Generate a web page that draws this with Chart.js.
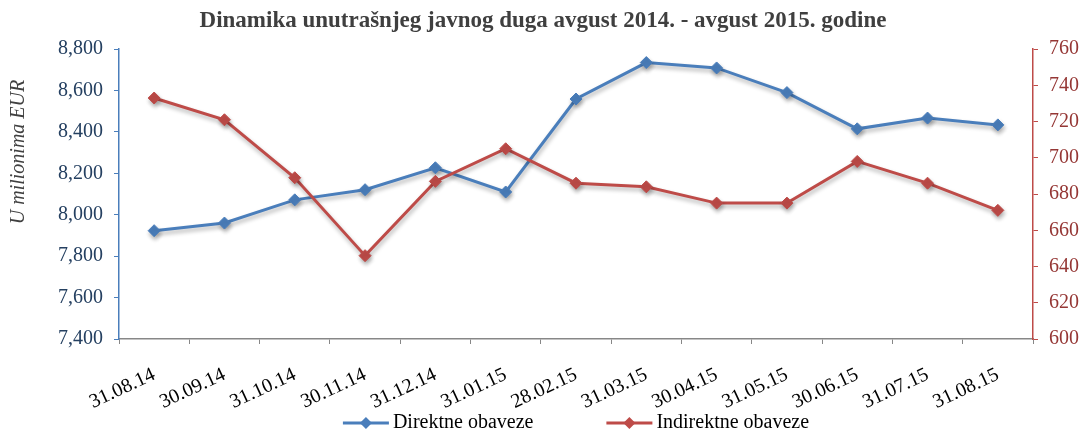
<!DOCTYPE html>
<html lang="sr">
<head>
<meta charset="utf-8">
<title>Dinamika unutrašnjeg javnog duga</title>
<script src="https://cdn.jsdelivr.net/npm/chart.js@4.4.1/dist/chart.umd.min.js"></script>
<style>
    html, body { margin: 0; padding: 0; background: #fff; }
    #wrap { width: 1086px; height: 432px; }
</style>
</head>
<body>
<div id="wrap"><canvas id="debtChart" width="1086" height="432"></canvas></div>
<script>
const labels = ['31.08.14', '30.09.14', '31.10.14', '30.11.14', '31.12.14', '31.01.15', '28.02.15',
    '31.03.15', '30.04.15', '31.05.15', '30.06.15', '31.07.15', '31.08.15'];
const direktne = [7923, 7960, 8072, 8121, 8227, 8110, 8559, 8735, 8709, 8590, 8415, 8467, 8434];
const indirektne = [733, 721, 689, 646, 687, 705, 686, 684, 675, 675, 698, 686, 671];
const leftRange = [7400, 8800, 200];
const rightRange = [600, 760, 20];

const SERIF = '"Liberation Serif", "Times New Roman", serif';
const BLUE = '#4A7EBB';
const RED = '#BE4B48';

// shadow under lines and markers, like the Excel original
const shadowPlugin = {
    id: 'shadow',
    beforeDatasetsDraw(chart) {
        const ctx = chart.ctx;
        ctx.save();
        ctx.shadowColor = 'rgba(0, 0, 0, 0.3)';
        ctx.shadowBlur = 4;
        ctx.shadowOffsetX = 1;
        ctx.shadowOffsetY = 3;
    },
    afterDatasetsDraw(chart) {
        chart.ctx.restore();
    }
};

// axis title sits above the middle, and the legend needs wider spacing than Chart.js gives
const extrasPlugin = {
    id: 'extras',
    afterDraw(chart) {
        const ctx = chart.ctx;
        const area = chart.chartArea;

        ctx.save();
        ctx.translate(19, 152);
        ctx.rotate(-Math.PI / 2);
        ctx.font = `italic 20px ${SERIF}`;
        ctx.fillStyle = '#404040';
        ctx.textAlign = 'center';
        ctx.textBaseline = 'middle';
        ctx.fillText('U milionima EUR', 0, 0);
        ctx.restore();

        ctx.save();
        ctx.font = `20px ${SERIF}`;
        ctx.textBaseline = 'middle';
        const lineLen = 46, gap = 4, spacing = 73, y = 423;
        const items = chart.data.datasets.map(ds => ({
            text: ds.label,
            color: ds.borderColor,
            width: lineLen + gap + ctx.measureText(ds.label).width
        }));
        const total = items.reduce((s, it) => s + it.width, 0) + spacing * (items.length - 1);
        let x = (area.left + area.right) / 2 - total / 2;
        items.forEach(it => {
            ctx.strokeStyle = it.color;
            ctx.lineWidth = 3;
            ctx.beginPath();
            ctx.moveTo(x, y);
            ctx.lineTo(x + lineLen, y);
            ctx.stroke();
            const cx = x + lineLen / 2;
            ctx.fillStyle = it.color;
            ctx.beginPath();
            ctx.moveTo(cx - 6, y);
            ctx.lineTo(cx, y - 6);
            ctx.lineTo(cx + 6, y);
            ctx.lineTo(cx, y + 6);
            ctx.closePath();
            ctx.fill();
            ctx.fillStyle = '#000';
            ctx.fillText(it.text, x + lineLen + gap, y);
            x += it.width + spacing;
        });
        ctx.restore();
    }
};

const ctx = document.getElementById('debtChart').getContext('2d');
new Chart(ctx, {
    type: 'line',
    data: {
        labels: labels,
        datasets: [{
            label: 'Direktne obaveze',
            data: direktne,
            yAxisID: 'y',
            borderColor: BLUE,
            backgroundColor: BLUE,
            borderWidth: 3,
            pointStyle: 'rectRot',
            pointRadius: 6,
            pointBorderWidth: 1,
            tension: 0,
            order: 1
        }, {
            label: 'Indirektne obaveze',
            data: indirektne,
            yAxisID: 'y1',
            borderColor: RED,
            backgroundColor: RED,
            borderWidth: 3,
            pointStyle: 'rectRot',
            pointRadius: 6,
            pointBorderWidth: 1,
            tension: 0,
            order: 0
        }]
    },
    options: {
        responsive: false,
        animation: false,
        layout: { padding: 0 },
        plugins: {
            legend: { display: false },
            tooltip: { enabled: false },
            title: {
                display: true,
                text: 'Dinamika unutrašnjeg javnog duga avgust 2014. - avgust 2015. godine',
                font: { family: SERIF, size: 23, weight: 'bold' },
                color: '#3F3F3F',
                padding: { top: 7, bottom: 14.5 }
            }
        },
        scales: {
            x: {
                offset: true,
                grid: { offset: true, drawOnChartArea: false, tickLength: 5, color: '#878787' },
                border: { color: '#878787', width: 1.5 },
                ticks: {
                    autoSkip: false,
                    minRotation: 25,
                    maxRotation: 25,
                    padding: 19,
                    color: '#000',
                    font: { family: SERIF, size: 20 }
                },
                afterFit: (scale) => { scale.height = 93; }
            },
            y: {
                position: 'left',
                min: leftRange[0],
                max: leftRange[1],
                grid: { drawOnChartArea: false, tickLength: 5, color: BLUE },
                border: { color: BLUE, width: 1.5 },
                ticks: {
                    stepSize: leftRange[2],
                    padding: 11,
                    color: '#254061',
                    font: { family: SERIF, size: 20 },
                    callback: (v) => v.toLocaleString('en-US')
                },
                afterFit: (scale) => { scale.width = 119; }
            },
            y1: {
                position: 'right',
                min: rightRange[0],
                max: rightRange[1],
                grid: { drawOnChartArea: false, tickLength: 5, color: RED },
                border: { color: RED, width: 1.5 },
                ticks: {
                    stepSize: rightRange[2],
                    padding: 11,
                    color: '#953735',
                    font: { family: SERIF, size: 20 }
                },
                afterFit: (scale) => { scale.width = 53; }
            }
        }
    },
    plugins: [shadowPlugin, extrasPlugin]
});
</script>
</body>
</html>
